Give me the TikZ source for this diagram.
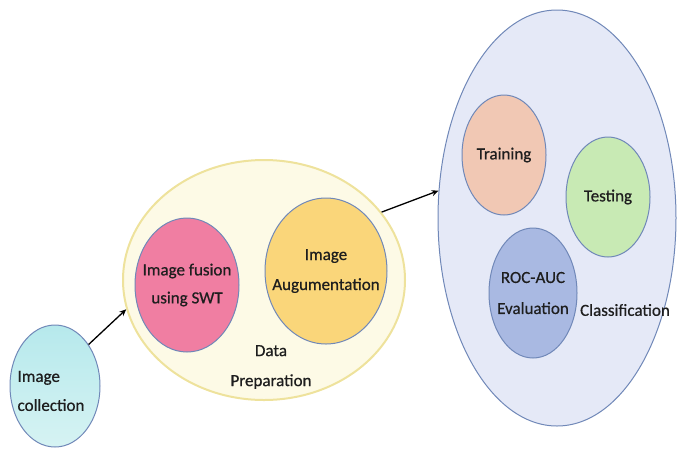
\documentclass[tikz,border=0pt]{standalone}
\usepackage{fontspec}
\setmainfont{Carlito}
\newfontfamily\labelfont{Carlito}[BoldFont={Carlito},BoldFeatures={FakeBold=0.6}]
\usetikzlibrary{shapes.geometric,arrows.meta}
\definecolor{edgeblue}{HTML}{7088B8}
\definecolor{cyanfill}{HTML}{B6E9EC}
\definecolor{cyanlight}{HTML}{D6F3F3}
\definecolor{creamfill}{HTML}{FDFAE6}
\definecolor{creamedge}{HTML}{EEE29C}
\definecolor{pinkfill}{HTML}{F07EA2}
\definecolor{goldfill}{HTML}{FAD67A}
\definecolor{lavfill}{HTML}{E5E9F7}
\definecolor{peachfill}{HTML}{F1C8B4}
\definecolor{greenfill}{HTML}{C8EAB4}
\definecolor{bluefill}{HTML}{A9B9E2}
\definecolor{txt}{HTML}{1E1E1E}
\tikzset{
  caption/.style={font=\labelfont\bfseries\fontsize{17}{21}\selectfont, text=txt, align=center},
  blob/.style={ellipse, draw=edgeblue, line width=1pt, inner sep=0pt},
  tag/.style={label={[caption]center:#1}},
  flow/.style={line width=1.3pt, -{Stealth[length=7pt,width=6pt]}}
}
\begin{document}
\begin{tikzpicture}[x=1pt,y=-1pt]
\useasboundingbox (0,0) rectangle (680,451);
% data collection
\node[blob, minimum width=90pt, minimum height=122pt,
      top color=cyanfill, bottom color=cyanlight,
      label={[caption, align=left, xshift=-4pt, yshift=-5pt]center:{Image\\[8pt]collection}}]
  (collect) at (55,386) {};
% data preparation group
\node[ellipse, draw=creamedge, line width=2pt, fill=creamfill,
      minimum width=282pt, minimum height=240pt] (prep) at (264,280) {};
\node[blob, minimum width=104pt, minimum height=134pt, fill=pinkfill,
      tag={Image fusion\\[7pt]using SWT}] (fusion) at (187,285) {};
\node[blob, minimum width=122pt, minimum height=146pt, fill=goldfill,
      tag={Image\\[9pt]Augumentation}] (augment) at (326,271) {};
\node[caption] (preplabel) at (271,367) {Data\\[9pt]Preparation};
% classification group
\node[ellipse, draw=edgeblue, line width=1pt, fill=lavfill,
      minimum width=238pt, minimum height=416pt] (classify) at (557,218) {};
\node[blob, minimum width=84pt, minimum height=120pt, fill=peachfill,
      tag={Training}] (train) at (504,155) {};
\node[blob, minimum width=84pt, minimum height=120pt, fill=greenfill,
      tag={Testing}] (test) at (608,197) {};
\node[blob, minimum width=88pt, minimum height=130pt, fill=bluefill,
      tag={ROC-AUC\\[10pt]Evaluation}] (roc) at (533,293) {};
\node[caption] (classlabel) at (625,310) {Classification};
% flow between stages
\draw[flow] (collect.51) -- (prep.192);
\draw[flow] (prep.30) -- (classify.167);
\end{tikzpicture}
\end{document}
